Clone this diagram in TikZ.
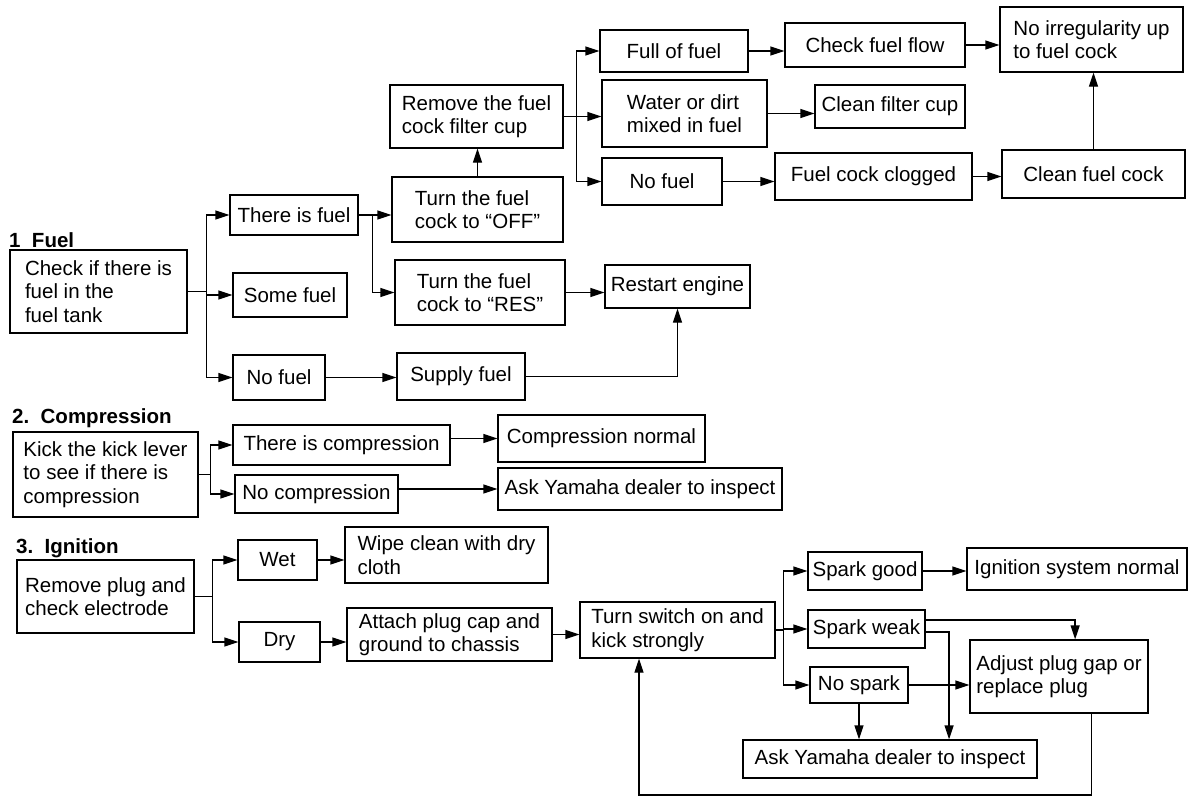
\documentclass[tikz,border=0pt]{standalone}
\usepackage{fontspec}
\setmainfont{Liberation Sans}
\usetikzlibrary{arrows.meta,calc}
\tikzset{
  box/.style={draw, line width=1.3pt, align=left, inner sep=3pt, font=\fontsize{20.5}{23.5}\selectfont},
  arr/.style={line width=1.3pt, -{Triangle[length=14pt,width=9pt]}},
  sect/.style={anchor=west, inner sep=0pt, font=\bfseries\fontsize{20.5}{24}\selectfont},
}
\newcommand\bx[6]{%
  \pgfmathsetmacro\bxw{#4-#2}\pgfmathsetmacro\bxh{#5-#3}%
  \pgfmathsetmacro\bxcx{(#2+#4)/2}\pgfmathsetmacro\bxcy{(#3+#5)/2}%
  \node[box,minimum width=\bxw pt,minimum height=\bxh pt] (#1) at (\bxcx,\bxcy) {#6};}
\begin{document}
\begin{tikzpicture}[x=1pt,y=-1pt]
\useasboundingbox (0,0) rectangle (1194,803);
% ---------- 1 Fuel ----------
\node[sect] (l1) at (9,240) {1\ \ Fuel};
\bx{chk}{10}{250}{187}{333}{Check if there is\\fuel in the\\fuel tank}
\bx{tif}{230}{195}{358}{235}{There is fuel}
\bx{some}{233}{273}{347}{317}{Some fuel}
\bx{nof}{233}{355}{325}{400}{No fuel}
\bx{off}{392}{177}{563}{242}{Turn the fuel\\cock to ``OFF''}
\bx{res}{395}{260}{565}{325}{Turn the fuel\\cock to ``RES''}
\bx{rem}{390}{85}{563}{148}{Remove the fuel\\cock filter cup}
\bx{full}{600}{30}{748}{72}{Full of fuel}
\bx{water}{602}{80}{767}{147}{Water or dirt\\mixed in fuel}
\bx{nf2}{602}{158}{722}{205}{No fuel}
\bx{cff}{785}{23}{965}{67}{Check fuel flow}
\bx{noirr}{1000}{7}{1183}{72}{No irregularity up\\to fuel cock}
\bx{cfc}{815}{85}{965}{128}{Clean filter cup}
\bx{clog}{775}{153}{972}{200}{Fuel cock clogged}
\bx{ccock}{1002}{150}{1185}{198}{Clean fuel cock}
\bx{rst}{605}{265}{750}{308}{Restart engine}
\bx{sup}{397}{353}{525}{400}{Supply fuel}

\draw[arr] (chk.east) -- ++(19,0) coordinate (j1) |- (tif.west);
\draw[arr] (j1) |- (some.west);
\draw[arr] (j1) |- (nof.west);
\draw[arr] (tif.east) -- ++(14,0) coordinate (j2) |- (res.west);
\draw[arr] (tif.east) -- (off.west |- tif.east);
\draw[arr] (off.north) -- (off.north |- rem.south);
\draw[arr] (rem.east) -- ++(13,0) coordinate (j3) |- (full.west);
\draw[arr] (j3) |- (nf2.west);
\draw[arr] (rem.east) -- (water.west |- rem.east);
\draw[arr] (full.east) -- (cff.west |- full.east);
\draw[arr] (cff.east) -- (noirr.west |- cff.east);
\draw[arr] (water.east) -- (cfc.west |- water.east);
\draw[arr] (nf2.east) -- (clog.west |- nf2.east);
\draw[arr] (clog.east) -- (ccock.west |- clog.east);
\draw[arr] (ccock.north) -- (ccock.north |- noirr.south);
\draw[arr] (res.east) -- (rst.west |- res.east);
\draw[arr] (nof.east) -- (sup.west |- nof.east);
\draw[arr] (sup.east) -| (rst.south);

% ---------- 2 Compression ----------
\node[sect] (l2) at (12,418) {2.\ \ Compression};
\bx{kick}{13}{432}{198}{517}{Kick the kick lever\\to see if there is\\compression}
\bx{tic}{233}{425}{450}{465}{There is compression}
\bx{noc}{235}{475}{398}{513}{No compression}
\bx{cn}{498}{415}{705}{462}{Compression normal}
\bx{ask2}{498}{468}{782}{510}{Ask Yamaha dealer to inspect}

\draw[arr] (kick.east) -- ++(12,0) coordinate (j4) |- (tic.west);
\draw[arr] (j4) |- (noc.west);
\draw[arr] (tic.east |- cn.west) -- (cn.west);
\draw[arr] (noc.east |- ask2.west) -- (ask2.west);

% ---------- 3 Ignition ----------
\node[sect] (l3) at (16,548) {3.\ \ Ignition};
\bx{rp}{17}{560}{194}{633}{Remove plug and\\check electrode}
\bx{wet}{238}{540}{317}{580}{Wet}
\bx{dry}{239}{622}{320}{662}{Dry}
\bx{wipe}{345}{527}{548}{583}{Wipe clean with dry\\cloth}
\bx{att}{347}{608}{552}{661}{Attach plug cap and\\ground to chassis}
\bx{ts}{580}{602}{775}{658}{Turn switch on and\\kick strongly}
\bx{sg}{808}{552}{922}{590}{Spark good}
\bx{sw}{808}{610}{925}{648}{Spark weak}
\bx{ns}{810}{667}{908}{703}{No spark}
\bx{isn}{967}{548}{1187}{590}{Ignition system normal}
\bx{adj}{970}{640}{1148}{713}{Adjust plug gap or\\replace plug}
\bx{ask3}{743}{740}{1037}{778}{Ask Yamaha dealer to inspect}

\draw[arr] (rp.east) -- ++(18,0) coordinate (j5) |- (wet.west);
\draw[arr] (j5) |- (dry.west);
\draw[arr] (wet.east) -- (wipe.west |- wet.east);
\draw[arr] (dry.east) -- (att.west |- dry.east);
\draw[arr] (att.east) -- (ts.west |- att.east);
\draw[arr] (ts.east) -- ++(8,0) coordinate (j6) |- (sg.west);
\draw[arr] (j6) |- (sw.west);
\draw[arr] (j6) |- (ns.west);
\draw[arr] (sg.east) -- (isn.west |- sg.east);
\draw[arr] ([yshift=9pt]sw.east) -| ($(adj.north west)!0.59!(adj.north east)$);
\draw[arr] ([yshift=-3pt]sw.east) -| ($(ask3.north west)!0.70!(ask3.north east)$);
\draw[arr] (ns.east) -- (adj.west |- ns.east);
\draw[arr] (ns.south) -- (ns.south |- ask3.north);
\coordinate (fb) at (639,795);
\draw[arr] ($(adj.south west)!0.68!(adj.south east)$) |- (fb) -- (fb |- ts.south);
\end{tikzpicture}
\end{document}
